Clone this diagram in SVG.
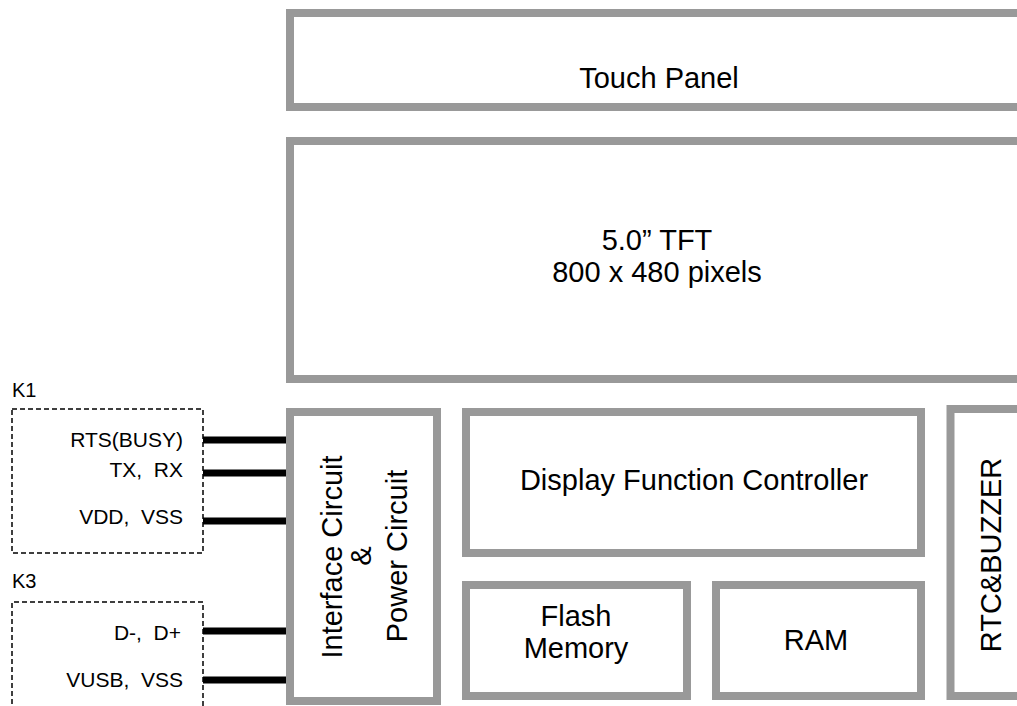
<svg xmlns="http://www.w3.org/2000/svg" width="1017" height="706" viewBox="0 0 1017 706">
<style>
.blk{fill:#fff;stroke:#999999;stroke-width:8}
.big{font-family:"Liberation Sans",Arial,sans-serif;font-size:29px;fill:#000;text-anchor:middle}
.sm{font-family:"Liberation Sans",Arial,sans-serif;font-size:21px;fill:#000;text-anchor:end;white-space:pre}
.lbl{font-family:"Liberation Sans",Arial,sans-serif;font-size:20px;fill:#000}
.dash{fill:none;stroke:#000;stroke-width:1.5;stroke-dasharray:5,3}
.wire{stroke:#000;stroke-width:7;fill:none}
</style>
<rect width="1017" height="706" fill="#fff"/>
<g id="touch-panel">
<rect class="blk" x="290" y="13" width="760" height="94"/>
<text class="big" x="659" y="88">Touch Panel</text>
</g>
<g id="tft">
<rect class="blk" x="290" y="141" width="760" height="238"/>
<text class="big" x="657" y="250">5.0” TFT</text>
<text class="big" x="657" y="282">800 x 480 pixels</text>
</g>
<g id="k1">
<rect class="dash" x="12" y="409" width="191" height="144"/>
<text class="lbl" x="12" y="397">K1</text>
<text class="sm" x="183" y="447">RTS(BUSY)</text>
<text class="sm" x="183" y="477" xml:space="preserve">TX,  RX</text>
<text class="sm" x="183" y="524" xml:space="preserve">VDD,  VSS</text>
</g>
<g id="k3">
<path class="dash" d="M12,720 V602 H203 V720"/>
<text class="lbl" x="12" y="588">K3</text>
<text class="sm" x="181" y="640" xml:space="preserve">D-,  D+</text>
<text class="sm" x="183" y="687" xml:space="preserve">VUSB,  VSS</text>
</g>
<g id="connectors">
<line class="wire" x1="203" y1="440" x2="287" y2="440"/>
<line class="wire" x1="203" y1="473" x2="287" y2="473"/>
<line class="wire" x1="203" y1="521" x2="287" y2="521"/>
<line class="wire" x1="203" y1="631" x2="287" y2="631"/>
<line class="wire" x1="203" y1="680" x2="287" y2="680"/>
</g>
<g id="interface">
<rect class="blk" x="290" y="412" width="147" height="289"/>
<text class="big" transform="translate(342,557) rotate(-90)">Interface Circuit</text>
<text class="big" transform="translate(371,556) rotate(-90)">&amp;</text>
<text class="big" transform="translate(407,556) rotate(-90)">Power Circuit</text>
</g>
<g id="dfc">
<rect class="blk" x="466" y="412" width="455" height="141"/>
<text class="big" x="694" y="490">Display Function Controller</text>
</g>
<g id="flash">
<rect class="blk" x="466" y="585" width="221" height="111"/>
<text class="big" x="576" y="626">Flash</text>
<text class="big" x="576" y="658">Memory</text>
</g>
<g id="ram">
<rect class="blk" x="716" y="585" width="205" height="111"/>
<text class="big" x="816" y="650">RAM</text>
</g>
<g id="rtc">
<rect class="blk" x="950.5" y="409" width="100" height="287"/>
<text class="big" transform="translate(1001,555) rotate(-90)">RTC&amp;BUZZER</text>
</g>
</svg>
